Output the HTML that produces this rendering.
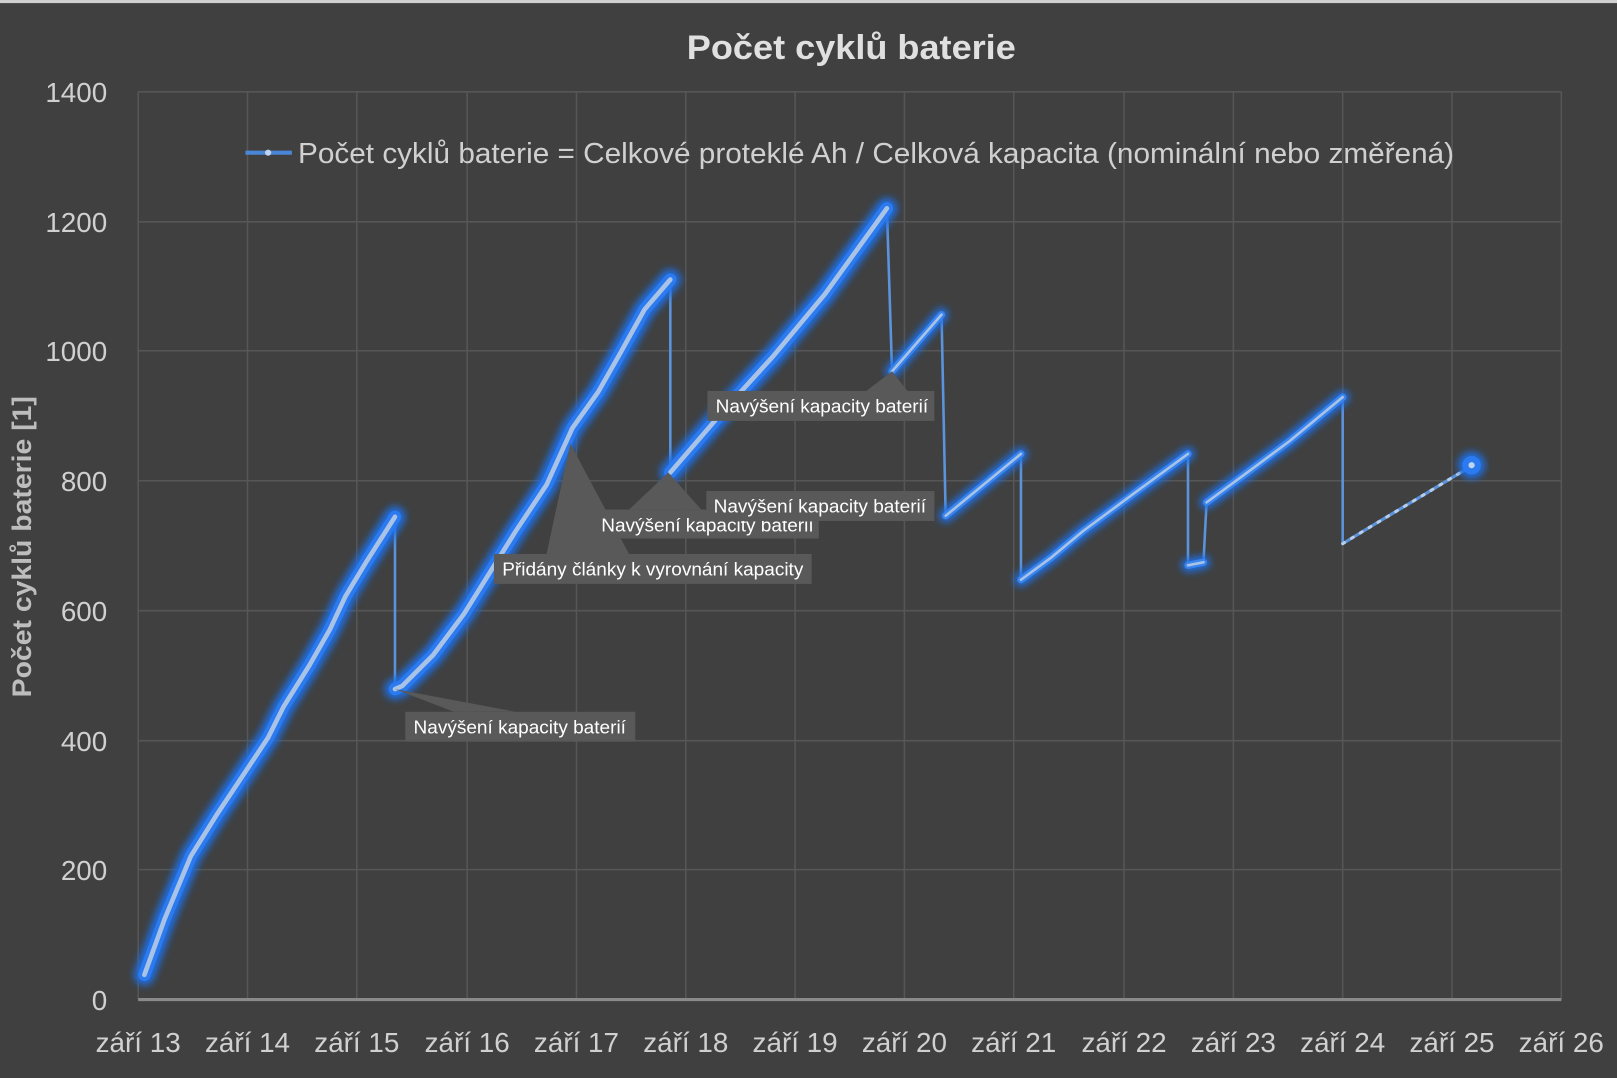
<!DOCTYPE html>
<html><head><meta charset="utf-8"><style>
html,body{margin:0;padding:0;background:#404040;}
svg{display:block;}
text{font-family:"Liberation Sans","DejaVu Sans",sans-serif;}
</style></head><body>
<svg width="1617" height="1078" viewBox="0 0 1568 1045" preserveAspectRatio="none" xmlns="http://www.w3.org/2000/svg">
<defs>
<filter id="glow" x="-20%" y="-20%" width="140%" height="140%"><feGaussianBlur stdDeviation="3.5"/></filter>
</defs>
<rect width="1568" height="1045" fill="#404040"/>
<rect width="1568" height="3" fill="#d0d0d0"/>
<text x="666" y="57" fill="#e0e0e0" font-size="33" font-weight="bold" textLength="319" lengthAdjust="spacingAndGlyphs">Počet cyklů baterie</text>
<g stroke="#565656" stroke-width="1.5">
<line x1="134" y1="89" x2="1514" y2="89"/><line x1="134" y1="215" x2="1514" y2="215"/>
<line x1="134" y1="340" x2="1514" y2="340"/><line x1="134" y1="466" x2="1514" y2="466"/>
<line x1="134" y1="592" x2="1514" y2="592"/><line x1="134" y1="718" x2="1514" y2="718"/>
<line x1="134" y1="843" x2="1514" y2="843"/>
<line x1="134" y1="89" x2="134" y2="969"/><line x1="240" y1="89" x2="240" y2="969"/><line x1="346" y1="89" x2="346" y2="969"/><line x1="453" y1="89" x2="453" y2="969"/><line x1="559" y1="89" x2="559" y2="969"/><line x1="665" y1="89" x2="665" y2="969"/><line x1="771" y1="89" x2="771" y2="969"/><line x1="877" y1="89" x2="877" y2="969"/><line x1="983" y1="89" x2="983" y2="969"/><line x1="1090" y1="89" x2="1090" y2="969"/><line x1="1196" y1="89" x2="1196" y2="969"/><line x1="1302" y1="89" x2="1302" y2="969"/><line x1="1408" y1="89" x2="1408" y2="969"/><line x1="1514" y1="89" x2="1514" y2="969"/>
</g>
<line x1="134" y1="969" x2="1514" y2="969" stroke="#8a8a8a" stroke-width="3"/>
<g fill="#d0d0d0" font-size="27" text-anchor="end">
<text x="104" y="99">1400</text><text x="104" y="225">1200</text><text x="104" y="350">1000</text><text x="104" y="476">800</text><text x="104" y="602">600</text><text x="104" y="728">400</text><text x="104" y="853">200</text><text x="104" y="979">0</text>
</g>
<g fill="#d0d0d0" font-size="27" text-anchor="middle">
<text x="134" y="1020">září 13</text><text x="240" y="1020">září 14</text><text x="346" y="1020">září 15</text><text x="453" y="1020">září 16</text><text x="559" y="1020">září 17</text><text x="665" y="1020">září 18</text><text x="771" y="1020">září 19</text><text x="877" y="1020">září 20</text><text x="983" y="1020">září 21</text><text x="1090" y="1020">září 22</text><text x="1196" y="1020">září 23</text><text x="1302" y="1020">září 24</text><text x="1408" y="1020">září 25</text><text x="1514" y="1020">září 26</text>
</g>
<text transform="translate(30,530) rotate(-90)" fill="#bdbdbd" font-size="26" font-weight="bold" text-anchor="middle" textLength="292" lengthAdjust="spacingAndGlyphs">Počet cyklů baterie [1]</text>
<line x1="238" y1="148" x2="283" y2="148" stroke="#4a86d8" stroke-width="4"/>
<circle cx="260" cy="148" r="3" fill="#c0d4ee"/>
<text x="289" y="158" fill="#d0d0d0" font-size="28" textLength="1121" lengthAdjust="spacingAndGlyphs">Počet cyklů baterie = Celkové proteklé Ah / Celková kapacita (nominální nebo změřená)</text>
<g stroke="#5b93dc" stroke-width="2.5" fill="none">
<path d="M383 501 L383 668 M650 271 L650 458 M860 202 L865 360 M913 305 L917 500 M990 440 L990 562 M1152 440 L1152 548 M1167 545 L1170 487 M1302 385 L1302 527"/>
</g>
<g fill="none" stroke-linecap="round" stroke-linejoin="round">
<g stroke="#1f6fe8" stroke-width="20" filter="url(#glow)">
<path d="M140 945 L160 890 L185 830 L210 790 L240 745 L260 715 L275 685 L300 645 L320 610 L335 578 L355 545 L383 501"/>
<path d="M383 668 L390 665 L420 635 L450 595 L475 555 L500 515 L530 470 L555 415 L580 380 L600 345 L625 300 L650 271"/>
<path d="M650 458 L700 400 L750 345 L800 285 L860 202"/>
</g>
<g stroke="#1f6fe8" stroke-width="13" filter="url(#glow)">
<path d="M865 360 L913 305 M917 500 L990 440 M990 562 L1020 540 L1050 515 L1100 478 L1152 440 M1152 548 L1167 545 M1170 487 L1200 465 L1250 428 L1302 385"/>
</g>
<g stroke="#2b7af0" stroke-width="12">
<path d="M140 945 L160 890 L185 830 L210 790 L240 745 L260 715 L275 685 L300 645 L320 610 L335 578 L355 545 L383 501"/>
<path d="M383 668 L390 665 L420 635 L450 595 L475 555 L500 515 L530 470 L555 415 L580 380 L600 345 L625 300 L650 271"/>
<path d="M650 458 L700 400 L750 345 L800 285 L860 202"/>
</g>
<g stroke="#3a84ee" stroke-width="7">
<path d="M865 360 L913 305 M917 500 L990 440 M990 562 L1020 540 L1050 515 L1100 478 L1152 440 M1152 548 L1167 545 M1170 487 L1200 465 L1250 428 L1302 385"/>
</g>
<g stroke="#a9c3e6" stroke-width="4.5">
<path d="M140 945 L160 890 L185 830 L210 790 L240 745 L260 715 L275 685 L300 645 L320 610 L335 578 L355 545 L383 501"/>
<path d="M383 668 L390 665 L420 635 L450 595 L475 555 L500 515 L530 470 L555 415 L580 380 L600 345 L625 300 L650 271"/>
<path d="M650 458 L700 400 L750 345 L800 285 L860 202"/>
<path d="M865 360 L913 305 M917 500 L990 440 M990 562 L1020 540 L1050 515 L1100 478 L1152 440 M1152 548 L1167 545 M1170 487 L1200 465 L1250 428 L1302 385" stroke-width="2.5"/>
</g>
<path d="M1302 527 L1330 510 L1380 480 L1428 451" stroke="#5b93dc" stroke-width="3"/>
<path d="M1302 527 L1330 510 L1380 480 L1428 451" stroke="#b8cdea" stroke-width="3" stroke-dasharray="2 8"/>
</g>
<circle cx="1427" cy="451" r="13" fill="#1f6fe8" filter="url(#glow)"/>
<circle cx="1427" cy="451" r="9" fill="#2b7af0"/>
<circle cx="1427" cy="451" r="3" fill="#c0d4ee"/>
<g fill="#595959">
<polygon points="383,668 440,690 500,690"/>
<rect x="393" y="690" width="223" height="29"/>
<polygon points="553,430 530,537 610,537"/>
<rect x="479" y="537" width="308" height="29"/>
<polygon points="648,458 610,494 680,494"/>
<rect x="577" y="494" width="217" height="28"/>
<rect x="685" y="476" width="221" height="29"/>
<polygon points="865,360 840,379 880,379"/>
<rect x="686" y="379" width="220" height="29"/>
</g>
<g fill="#ffffff" font-size="18">
<text x="401" y="711" textLength="206" lengthAdjust="spacingAndGlyphs">Navýšení kapacity baterií</text>
<text x="487" y="558" textLength="292" lengthAdjust="spacingAndGlyphs">Přidány články k vyrovnání kapacity</text>
<text x="583" y="515" textLength="206" lengthAdjust="spacingAndGlyphs">Navýšení kapacity baterií</text>
<rect x="685" y="476" width="221" height="29" fill="#595959"/>
<text x="692" y="497" textLength="206" lengthAdjust="spacingAndGlyphs">Navýšení kapacity baterií</text>
<text x="694" y="400" textLength="206" lengthAdjust="spacingAndGlyphs">Navýšení kapacity baterií</text>
</g>
</svg>
</body></html>
